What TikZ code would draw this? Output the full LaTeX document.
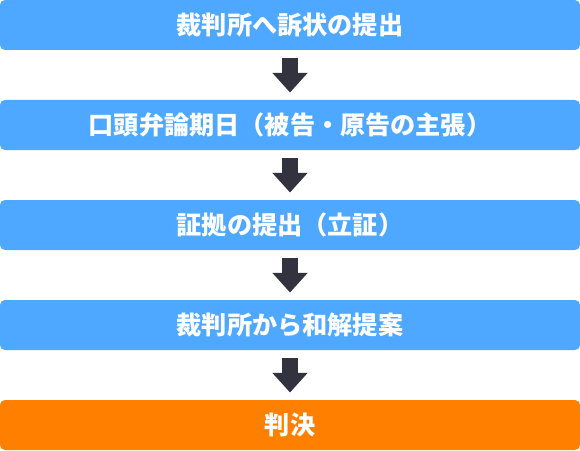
\documentclass[tikz,border=0pt]{standalone}
\usepackage{fontspec}
\setmainfont{Noto Sans CJK JP}
\usetikzlibrary{arrows.meta}
\definecolor{stepblue}{HTML}{4FA8FF}
\definecolor{steporange}{HTML}{FF8000}
\definecolor{arrowgray}{HTML}{33333F}
\tikzset{
	stage/.style={fill=stepblue, rounded corners=0.125cm, minimum width=14.5cm, minimum height=1.25cm, inner sep=0pt, text=white, font=\fontsize{17.9}{22}\selectfont\bfseries},
	flow/.style={draw=arrowgray, line width=0.415cm, -{Triangle[width=0.85cm, length=0.49cm]}, shorten <=0.19cm, shorten >=0.18cm}
}
\begin{document}
\begin{tikzpicture}
		\useasboundingbox (0,0) rectangle (14.5,11.25);
		\node[stage] (petition) at (7.25, 10.625) {裁判所へ訴状の提出};
		\node[stage] (hearing) at (7.25, 8.125) {口頭弁論期日（被告・原告の主張）};
		\node[stage] (evidence) at (7.25, 5.625) {証拠の提出（立証）};
		\node[stage] (settlement) at (7.25, 3.125) {裁判所から和解提案};
		\node[stage, fill=steporange] (judgment) at (7.25, 0.625) {判決};
		\draw[flow] (petition) -- (hearing);
		\draw[flow] (hearing) -- (evidence);
		\draw[flow] (evidence) -- (settlement);
		\draw[flow] (settlement) -- (judgment);
	\end{tikzpicture}
\end{document}
